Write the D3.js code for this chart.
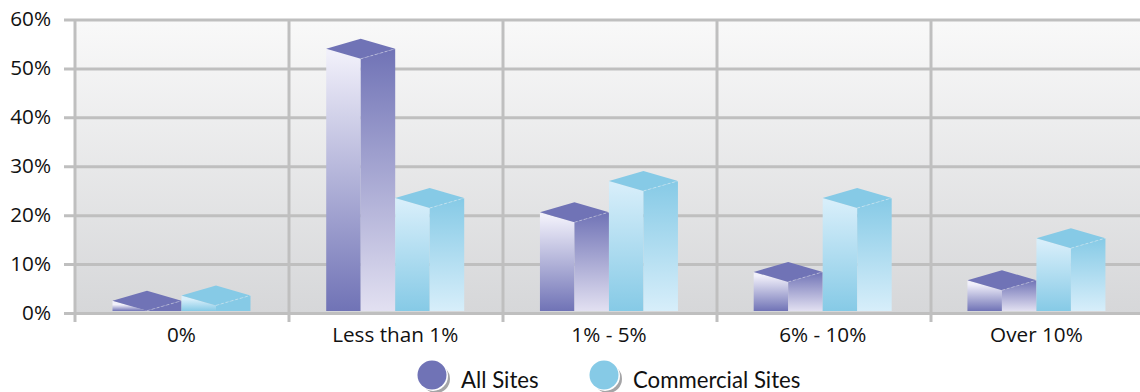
<!DOCTYPE html>
<html>
<head>
<meta charset="utf-8">
<script src="https://cdn.jsdelivr.net/npm/d3@7"></script>
<style>
  html, body { margin: 0; padding: 0; background: #fff; overflow: hidden; }
  svg { display: block; }
</style>
</head>
<body>
<script>
// Share of sites per bucket
const categories = ["0%", "Less than 1%", "1% - 5%", "6% - 10%", "Over 10%"];
const seriesNames = ["All Sites", "Commercial Sites"];
const allSites = [2.5, 54, 20.6, 8.4, 6.7];
const commercialSites = [3.6, 23.5, 27, 23.5, 15.3];
const yTicks = [0, 10, 20, 30, 40, 50, 60];

const W = 1140, H = 392;
const svg = d3.select("body").append("svg").attr("width", W).attr("height", H);
const defs = svg.append("defs");

const y = d3.scaleLinear().domain([0, 60]).range([313, 19.5]);
// Separators sit on a 214px step; the bars and their labels run slightly tighter
const x = d3.scaleBand().domain(categories).range([75, 1145]);
const xBars = d3.scaleBand().domain(categories).range([74.6, 1143.3]);
const groupWidth = 138;
const inner = d3.scaleBand().domain(seriesNames).range([0, groupWidth]);

const palette = {
  "All Sites": { dark: "#7073b6", light: "#f1f0fa", lightRight: "#e2e0f1" },
  "Commercial Sites": { dark: "#86cae6", light: "#d7eefa", lightRight: "#d7eefa" }
};

// Plot background
const bg = defs.append("linearGradient").attr("id", "plotBg")
  .attr("x1", 0).attr("y1", 0).attr("x2", 0).attr("y2", 1);
bg.append("stop").attr("offset", 0).attr("stop-color", "#f9f9f9");
bg.append("stop").attr("offset", 1).attr("stop-color", "#d6d7d9");
svg.append("rect")
  .attr("x", x.range()[0]).attr("y", y(60))
  .attr("width", W - x.range()[0]).attr("height", y(0) - y(60))
  .attr("fill", "url(#plotBg)");

const labelFont = "'Open Sans', sans-serif";
const labelSize = 20.7;

// Horizontal grid and value labels
const yAxis = svg.append("g")
  .attr("transform", "translate(75,0)")
  .call(d3.axisLeft(y).tickValues(yTicks).tickFormat(d => d + "%")
    .tickSize(-(W - 75)).tickPadding(24));
yAxis.select(".domain").remove();
yAxis.selectAll("line").attr("stroke", "#bfbfbf").attr("stroke-width", 3).attr("x1", -11)
  .attr("x2", W - 75);
yAxis.selectAll("text")
  .attr("font-family", labelFont).attr("font-size", labelSize).attr("fill", "#111")
  .attr("x", -24).attr("dy", "0.3em");

// Category separators
const edges = categories.map(c => x(c)).concat(x.range()[1]);
svg.append("g").selectAll("line").data(edges).join("line")
  .attr("x1", d => d).attr("x2", d => d)
  .attr("y1", y(60)).attr("y2", 322)
  .attr("stroke", "#bfbfbf").attr("stroke-width", 3);

// Category labels
const xAxis = svg.append("g")
  .attr("transform", `translate(0,${y(0)})`)
  .call(d3.axisBottom(xBars).tickSize(0).tickPadding(14));
xAxis.select(".domain").remove();
xAxis.selectAll("text")
  .attr("font-family", labelFont).attr("font-size", labelSize).attr("fill", "#111");

// Isometric bars
const rise = 10;
const floorY = y(0) - 2;
const bars = [];
categories.forEach((c, i) => {
  seriesNames.forEach((s, j) => {
    bars.push({ category: c, series: s, value: (j === 0 ? allSites : commercialSites)[i], id: `${i}-${j}` });
  });
});

function faceGradient(id, top, bottom, from, to) {
  const g = defs.append("linearGradient").attr("id", id)
    .attr("gradientUnits", "userSpaceOnUse")
    .attr("x1", 0).attr("x2", 0).attr("y1", top).attr("y2", bottom);
  g.append("stop").attr("offset", 0).attr("stop-color", from);
  g.append("stop").attr("offset", 1).attr("stop-color", to);
}

const line = d3.line();
const barG = svg.append("g");
bars.forEach(b => {
  const p = palette[b.series];
  const x0 = xBars(b.category) + (xBars.bandwidth() - groupWidth) / 2 + inner(b.series);
  const w = inner.bandwidth();
  const xm = x0 + w / 2, x1 = x0 + w;
  const top = y(b.value);
  const front = Math.min(top + rise, floorY);
  const short = floorY - top < 20;

  faceGradient(`left-${b.id}`, front === floorY ? top : top + rise * 0.4, floorY, p.light, p.dark);
  faceGradient(`right-${b.id}`, top, floorY, p.dark, short ? p.dark : p.lightRight);

  barG.append("path")
    .attr("d", line([[x0, top], [xm, front], [xm, floorY], [x0, floorY]]) + "Z")
    .attr("fill", `url(#left-${b.id})`);
  barG.append("path")
    .attr("d", line([[xm, front], [x1, top], [x1, floorY], [xm, floorY]]) + "Z")
    .attr("fill", `url(#right-${b.id})`);
  barG.append("path")
    .attr("d", line([[x0, top], [xm, top - rise], [x1, top], [xm, front]]) + "Z")
    .attr("fill", p.dark);
  barG.append("path")
    .attr("d", line([[xm, front], [x1, top]]))
    .attr("stroke", "#fff").attr("stroke-opacity", 0.35)
    .attr("stroke-dasharray", "3 2").attr("fill", "none");
});

// Legend
const legendX = d3.scaleOrdinal().domain(seriesNames).range([432, 604]);
const legend = svg.append("g").selectAll("g").data(seriesNames).join("g")
  .attr("transform", d => `translate(${legendX(d)},375)`);
// Offset shadow crescent, with a white rim between it and the disc
legend.append("circle").attr("cx", 4).attr("cy", 4).attr("r", 14).attr("fill", "#a5a5a7");
legend.append("circle").attr("cx", 1).attr("cy", 1).attr("r", 15).attr("fill", "#fff");
legend.append("circle").attr("r", 14.5).attr("fill", d => palette[d].dark);
legend.append("text")
  .attr("x", 29).attr("y", 13)
  .attr("font-family", "Lato, sans-serif").attr("font-size", 22.2).attr("fill", "#111")
  .text(d => d);
</script>
</body>
</html>
